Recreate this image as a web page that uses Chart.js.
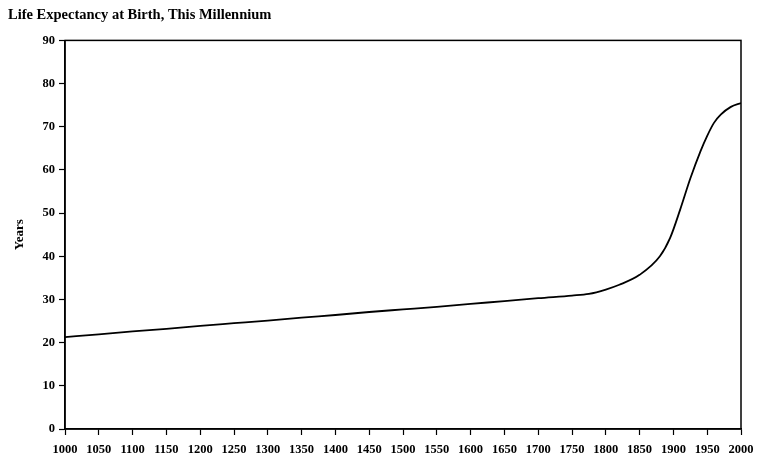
<!DOCTYPE html>
<html>
<head>
<meta charset="utf-8">
<script src="https://cdn.jsdelivr.net/npm/chart.js@4/dist/chart.umd.min.js"></script>
<style>
html,body{margin:0;padding:0;background:#fff;}
#wrap{position:relative;width:758px;height:463px;}
</style>
</head>
<body>
<div id="wrap"><canvas id="c"></canvas></div>
<script>
const years = [1000,1050,1100,1150,1200,1250,1300,1350,1400,1450,1500,1550,1600,1650,1700,1750,1775,1800,1820,1850,1880,1895,1910,1925,1940,1950,1960,1970,1985,2000];
const lifeExpectancy = [21.3,21.9,22.6,23.2,23.9,24.5,25.1,25.8,26.4,27.1,27.7,28.3,29.0,29.6,30.3,30.9,31.3,32.3,33.4,35.7,40.0,44.2,50.8,58.0,64.3,67.9,70.9,72.8,74.6,75.5];
const titleText = 'Life Expectancy at Birth, This Millennium';
const yTitle = 'Years';

const boxPlugin = {
  id: 'box',
  afterDatasetsDraw(chart) {
    const a = chart.chartArea, ctx = chart.ctx;
    ctx.save();
    ctx.strokeStyle = '#000';
    ctx.lineWidth = 1.5;
    ctx.strokeRect(a.left, a.top, a.right - a.left, a.bottom - a.top);
    ctx.restore();
  }
};

new Chart(document.getElementById('c'), {
  type: 'line',
  data: {
    datasets: [{
      data: years.map((y, i) => ({x: y, y: lifeExpectancy[i]})),
      borderColor: '#000',
      borderWidth: 1.8,
      pointRadius: 0,
      fill: false,
      cubicInterpolationMode: 'monotone'
    }]
  },
  options: {
    responsive: true,
    maintainAspectRatio: false,
    animation: false,
    layout: {padding: {left: 8, right: 17, top: 0, bottom: 0}},
    plugins: {
      legend: {display: false},
      tooltip: {enabled: false},
      title: {
        display: true, text: titleText, align: 'start', color: '#000',
        font: {family: 'Liberation Serif', size: 14.5, weight: 'bold'},
        padding: {top: 7, bottom: 16}
      }
    },
    scales: {
      x: {
        type: 'linear', min: 1000, max: 2000,
        afterFit: s => { s.height = 34; s.paddingLeft = 0; s.paddingRight = 0; },
        grid: {drawOnChartArea: false, drawTicks: true, tickLength: 6, tickColor: '#000', tickWidth: 1.2},
        border: {display: true, color: '#000', width: 1.5},
        ticks: {stepSize: 50, color: '#000', maxRotation: 0, autoSkip: false, padding: 7,
          font: {family: 'Liberation Serif', size: 12.5, weight: 'bold'},
          callback: v => String(v)}
      },
      y: {
        min: 0, max: 90,
        afterFit: s => { s.width = 57; },
        grid: {drawOnChartArea: false, drawTicks: true, tickLength: 6, tickColor: '#000', tickWidth: 1.2},
        border: {display: true, color: '#000', width: 1.5},
        ticks: {stepSize: 10, color: '#000', padding: 4,
          font: {family: 'Liberation Serif', size: 12.5, weight: 'bold'}},
        title: {display: true, text: yTitle, color: '#000',
          font: {family: 'Liberation Serif', size: 13, weight: 'bold'}, padding: {top: 4, bottom: 12}}
      }
    }
  },
  plugins: [boxPlugin]
});
</script>
</body>
</html>
